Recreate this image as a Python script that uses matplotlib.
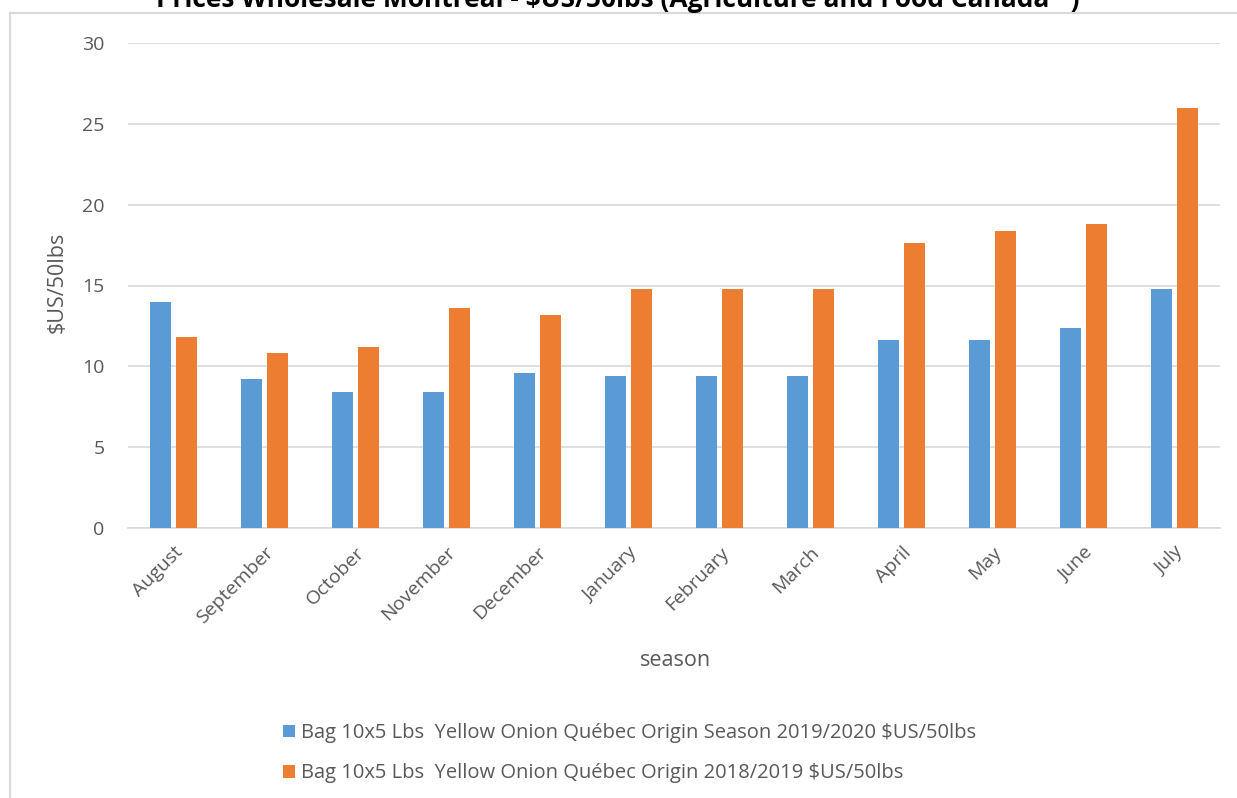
import numpy as np
import matplotlib.pyplot as plt
from matplotlib.patches import Rectangle

months = ["August", "September", "October", "November", "December", "January",
          "February", "March", "April", "May", "June", "July"]
season_2019_2020 = [14.0, 9.2, 8.4, 8.4, 9.6, 9.4, 9.4, 9.4, 11.6, 11.6, 12.4, 14.8]
season_2018_2019 = [11.8, 10.8, 11.2, 13.6, 13.2, 14.8, 14.8, 14.8, 17.6, 18.4, 18.8, 26.0]

label_2019_2020 = "Bag 10x5 Lbs  Yellow Onion Québec Origin Season 2019/2020 $US/50lbs"
label_2018_2019 = "Bag 10x5 Lbs  Yellow Onion Québec Origin 2018/2019 $US/50lbs"

BLUE = "#5B9BD5"
ORANGE = "#ED7D31"
TEXT = "#595959"

plt.rcParams["font.family"] = ["Open Sans", "DejaVu Sans"]

W, H = 1237, 798
fig = plt.figure(figsize=(W / 100, H / 100), dpi=100)

# outer chart border (runs off the right and bottom edges)
fig.patches.append(Rectangle((10 / W, -0.1), 1.1, 1 - 13 / H + 0.1,
                             transform=fig.transFigure, fill=False,
                             edgecolor="#d9d9d9", linewidth=1.5))

ax = fig.add_axes([128 / W, 1 - 528 / H, (1220 - 128) / W, (528 - 43) / H])

x = np.arange(len(months))
width = 0.23
ax.bar(x - 0.145, season_2019_2020, width, color=BLUE, label=label_2019_2020, zorder=3)
ax.bar(x + 0.145, season_2018_2019, width, color=ORANGE, label=label_2018_2019, zorder=3)

ax.set_xlim(-0.5, len(months) - 0.5)
ax.set_ylim(0, 30)
ax.set_yticks(np.arange(0, 31, 5))
ax.yaxis.grid(True, color="#d9d9d9", linewidth=1.2, zorder=0)
ax.set_axisbelow(True)
for side in ["top", "right", "left"]:
    ax.spines[side].set_visible(False)
ax.spines["bottom"].set_color("#d9d9d9")
ax.spines["bottom"].set_linewidth(1.2)

ax.set_xticks(x)
ax.set_xticklabels(months, rotation=45, ha="right", rotation_mode="anchor")
ax.tick_params(axis="both", length=0, labelsize=14, labelcolor=TEXT)
ax.tick_params(axis="x", pad=11)
ax.tick_params(axis="y", pad=17)

ax.set_ylabel("$US/50lbs", fontsize=15.5, color=TEXT)
ax.yaxis.set_label_coords((68 - 128) / 1092, (528 - 282) / 485)
fig.text(675 / W, 1 - 661 / H, "season", ha="center", va="center",
         fontsize=15.5, color=TEXT)

# title is cropped at the top edge, as in the source image
fig.text(618 / W, 1 - 7 / H,
         "Prices Wholesale Montreal - $US/50lbs (Agriculture and Food Canada *)",
         ha="center", va="baseline", fontsize=19, fontweight="bold", color="black")

fig.legend(loc="upper left", bbox_to_anchor=(265 / W, 1 - 705 / H),
           frameon=False, fontsize=14.5, labelcolor=TEXT,
           handlelength=0.6, handleheight=0.6, handletextpad=0.3,
           labelspacing=1.0)

fig.savefig("out.png", dpi=100)
